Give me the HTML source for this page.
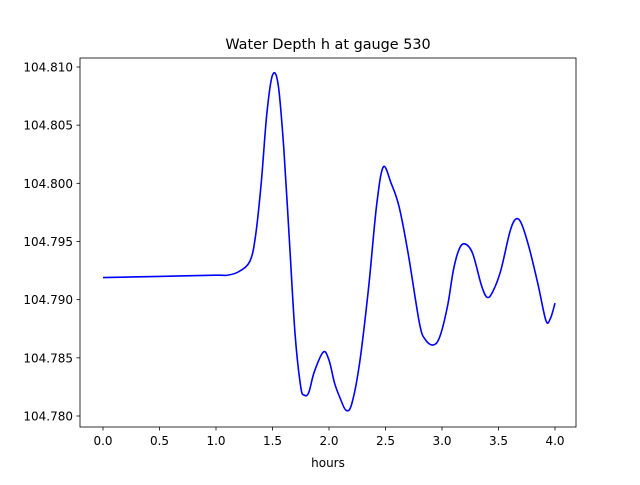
<!DOCTYPE html>
<html><head><meta charset="utf-8"><style>
body{margin:0;background:#fff;}
svg text{font-family:"DejaVu Sans","Liberation Sans",sans-serif;fill:#000;}
</style></head><body>
<svg id="chart" width="640" height="480" xmlns="http://www.w3.org/2000/svg">
<rect width="640" height="480" fill="#fff"/>
<text x="328" y="49" font-size="14.4" text-anchor="middle">Water Depth h at gauge 530</text>
<g id="axes"></g>
<path id="line" fill="none" stroke="#0000ff" stroke-width="1.6"/>
<rect x="80" y="58" width="496" height="369" fill="none" stroke="#000" stroke-width="0.8"/>
<text x="328" y="467" font-size="12" text-anchor="middle">hours</text>
</svg>
<script>
const hours=[0,0.5,1.0,1.1,1.2,1.3,1.35,1.4,1.45,1.5,1.55,1.6,1.65,1.7,1.75,1.78,1.82,1.87,1.95,2.0,2.05,2.1,2.15,2.2,2.27,2.35,2.42,2.48,2.55,2.62,2.7,2.8,2.85,2.92,2.98,3.05,3.1,3.15,3.2,3.27,3.35,3.4,3.45,3.52,3.6,3.65,3.7,3.77,3.85,3.92,3.96,4.0];
const depth=[104.7919,104.7920,104.7921,104.7921,104.7924,104.7933,104.7955,104.800,104.806,104.8093,104.8085,104.803,104.795,104.787,104.7825,104.7818,104.782,104.7838,104.7855,104.7848,104.7828,104.7815,104.7805,104.781,104.7845,104.791,104.798,104.8014,104.800,104.798,104.794,104.788,104.7866,104.7861,104.7868,104.7895,104.7925,104.7943,104.7948,104.7940,104.7912,104.7902,104.7907,104.7925,104.7958,104.7969,104.7966,104.7945,104.7913,104.7882,104.7884,104.7897];
const xTicks=[0,0.5,1.0,1.5,2.0,2.5,3.0,3.5,4.0];
const yTicks=[104.780,104.785,104.790,104.795,104.800,104.805,104.810];
const X=v=>103+v*113;
const Y=v=>416-(v-104.780)*(349/0.030);
const NS="http://www.w3.org/2000/svg";
const ax=document.getElementById('axes');
xTicks.forEach(t=>{
 const l=document.createElementNS(NS,'line');
 
 
 l.setAttribute('x1',X(t));l.setAttribute('x2',X(t));l.setAttribute('y1',427);l.setAttribute('y2',430.5);l.setAttribute('stroke','#000');l.setAttribute('stroke-width','0.8');ax.appendChild(l);
 const tx=document.createElementNS(NS,'text');
 
 
 tx.setAttribute('x',X(t));tx.setAttribute('y',445);tx.setAttribute('font-size','12');tx.setAttribute('text-anchor','middle');tx.textContent=t.toFixed(1);ax.appendChild(tx);
});
yTicks.forEach(t=>{
 const l=document.createElementNS(NS,'line');
 
 
 l.setAttribute('x1',76.5);l.setAttribute('x2',80);l.setAttribute('y1',Y(t));l.setAttribute('y2',Y(t));l.setAttribute('stroke','#000');l.setAttribute('stroke-width','0.8');ax.appendChild(l);
 const tx=document.createElementNS(NS,'text');
 
 
 tx.setAttribute('x',73);tx.setAttribute('y',Y(t)+4.5);tx.setAttribute('font-size','12');tx.setAttribute('text-anchor','end');tx.textContent=t.toFixed(3);ax.appendChild(tx);
});
const pts=hours.map((h,i)=>[X(h),Y(depth[i])]);
let d='M'+pts[0][0]+','+pts[0][1];
for(let i=0;i<pts.length-1;i++){
 const p0=pts[Math.max(0,i-1)],p1=pts[i],p2=pts[i+1],p3=pts[Math.min(pts.length-1,i+2)];
 const c1=[p1[0]+(p2[0]-p0[0])/6,p1[1]+(p2[1]-p0[1])/6];
 const c2=[p2[0]-(p3[0]-p1[0])/6,p2[1]-(p3[1]-p1[1])/6];
 d+=' C'+c1+' '+c2+' '+p2;
}
document.getElementById('line').setAttribute('d',d);
</script>
</body></html>
